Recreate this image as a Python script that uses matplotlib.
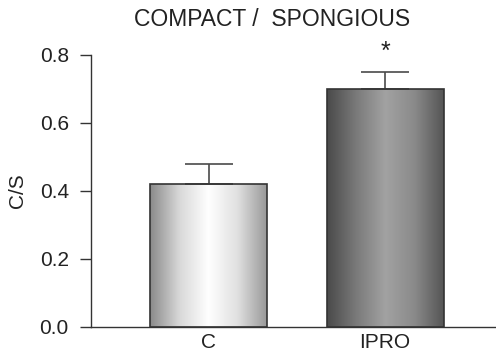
import numpy as np
import matplotlib
matplotlib.use("Agg")
import matplotlib.pyplot as plt
from matplotlib.colors import LinearSegmentedColormap

groups = ["C", "IPRO"]
ratio = [0.42, 0.70]
sem = [0.06, 0.05]
stars = ["", "*"]

plt.rcParams["font.family"] = ["Liberation Sans", "DejaVu Sans"]
txt = "#222222"

fig = plt.figure(figsize=(4.96, 3.54), dpi=100)
ax = fig.add_axes([91 / 496, 27 / 354, 405 / 496, 272 / 354])

x = np.arange(len(groups))
w = 0.663
bars = ax.bar(x, ratio, width=w, facecolor="none", edgecolor="#333333", linewidth=1.2, zorder=3)
ax.errorbar(x, ratio, yerr=[np.zeros(len(sem)), sem], fmt="none", ecolor="#4a4a4a",
            elinewidth=1.2, capsize=17, capthick=1.2, zorder=2)

# shaded fills for the bars
light = LinearSegmentedColormap.from_list("light", ["#8a8a8a", "#d8d8d8", "#ffffff", "#e0e0e0", "#999999"])
dark = LinearSegmentedColormap.from_list("dark", ["#4a4a4a", "#7a7a7a", "#a2a2a2", "#8a8a8a", "#555555"])
grad = np.linspace(0, 1, 256).reshape(1, -1)
for b, cm in zip(bars, [light, dark]):
    x0, y0 = b.get_x(), b.get_y()
    im = ax.imshow(grad, cmap=cm, aspect="auto", extent=[x0, x0 + b.get_width(), y0, y0 + b.get_height()],
                   zorder=1, interpolation="bicubic")
    im.set_clip_path(b)

for xi, v, e, s in zip(x, ratio, sem, stars):
    if s:
        ax.text(xi, v + e + 0.025, s, ha="center", va="bottom", fontsize=18, color=txt)

ax.set_xlim(-0.666, 1.629)
ax.set_ylim(0, 0.8)
ax.set_yticks([0.0, 0.2, 0.4, 0.6, 0.8])
ax.set_yticklabels(["0.0", "0.2", "0.4", "0.6", "0.8"])
ax.set_xticks(x)
ax.set_xticklabels(groups)
ax.tick_params(axis="y", length=8, width=1, color="#333333", labelsize=15, pad=8, labelcolor=txt)
ax.tick_params(axis="x", length=0, labelsize=15, pad=4, labelcolor=txt)
for sp in ["top", "right"]:
    ax.spines[sp].set_visible(False)
for sp in ["left", "bottom"]:
    ax.spines[sp].set_color("#333333")
    ax.spines[sp].set_linewidth(1)
ax.set_ylabel("C/S", fontsize=15, labelpad=9, color=txt)
fig.text(272 / 496, 1 - 20 / 354, "COMPACT /  SPONGIOUS", ha="center", va="center", fontsize=16.5, color=txt)

fig.savefig("out.png", dpi=100)
